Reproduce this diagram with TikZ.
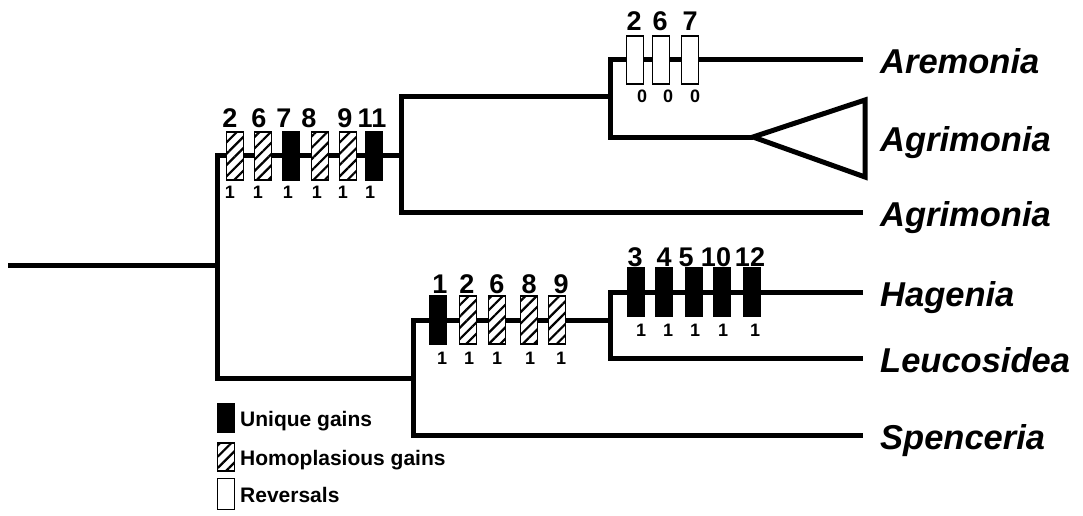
\documentclass[tikz,border=0pt]{standalone}
\usepackage{fontspec}
\setmainfont{Liberation Sans}
\usetikzlibrary{patterns.meta}
\begin{document}
\begin{tikzpicture}[x=1pt,y=-1pt,
  tree/.style={line width=5pt,line join=miter},
  chbox/.style={rectangle,draw,line width=1.3pt,minimum width=17pt,minimum height=48pt,inner sep=0pt},
  uniq/.style={chbox,fill=black},
  homo/.style={chbox,fill=white,postaction={pattern={Lines[angle=45,distance=8pt,line width=2.2pt]}}},
  rev/.style={chbox,fill=white},
  toplab/.style={font=\bfseries\fontsize{27}{27}\selectfont,inner sep=0pt},
  botlab/.style={font=\bfseries\fontsize{18}{18}\selectfont,inner sep=0pt},
  taxon/.style={font=\bfseries\itshape\fontsize{34.5}{34.5}\selectfont,anchor=base west,inner sep=0pt},
  legtxt/.style={font=\bfseries\fontsize{21}{21}\selectfont,anchor=base west,inner sep=0pt}]
\useasboundingbox (0,0) rectangle (1083,516);
% tree coordinates
\coordinate (root) at (8,265);
\coordinate (n1) at (217,265);
\coordinate (n1t) at (217,155);
\coordinate (n1b) at (217,378);
\coordinate (n2) at (401,155);
\coordinate (n2t) at (401,97);
\coordinate (n2b) at (401,212);
\coordinate (n3) at (610,97);
\coordinate (n3t) at (610,60);
\coordinate (n3b) at (610,137);
\coordinate (tip) at (753,137);
\coordinate (trt) at (865,100);
\coordinate (trb) at (865,177);
\coordinate (n4) at (413,378);
\coordinate (n4t) at (413,320);
\coordinate (n4b) at (413,435);
\coordinate (n5) at (610,320);
\coordinate (n5t) at (610,292);
\coordinate (n5b) at (610,358);
\coordinate (eAre) at (863,60);
\coordinate (eAgr) at (863,212);
\coordinate (eHag) at (863,292);
\coordinate (eLeu) at (863,358);
\coordinate (eSpe) at (863,435);
% branches
\draw[tree] (root) -- (n1);
\draw[tree] (n2) -- (n1t) -- (n1b) -- (n4);
\draw[tree] (n3) -- (n2t) -- (n2b) -- (eAgr);
\draw[tree] (eAre) -- (n3t) -- (n3b) -- (tip);
\draw[tree] (tip) -- (trt) -- (trb) -- cycle;
\draw[tree] (n5) -- (n4t) -- (n4b) -- (eSpe);
\draw[tree] (eHag) -- (n5t) -- (n5b) -- (eLeu);
% upper group
\node[homo] (u1) at (235,156) {};
\node[homo] (u2) at (263,156) {};
\node[uniq] (u3) at (291,156) {};
\node[homo] (u4) at (320,156) {};
\node[homo] (u5) at (348,156) {};
\node[uniq] (u6) at (374,156) {};
\node[toplab] (ut1) at (230,118) {2};
\node[toplab] (ut2) at (259,118) {6};
\node[toplab] (ut3) at (284,118) {7};
\node[toplab] (ut4) at (309,118) {8};
\node[toplab] (ut5) at (345,118) {9};
\node[toplab] (ut6) at (372,118) {11};
\node[botlab] (ub1) at (230,192) {1};
\node[botlab] (ub2) at (258,192) {1};
\node[botlab] (ub3) at (288,192) {1};
\node[botlab] (ub4) at (317,192) {1};
\node[botlab] (ub5) at (343,192) {1};
\node[botlab] (ub6) at (370,192) {1};
% reversals
\node[rev] (r1) at (635,60) {};
\node[rev] (r2) at (661,60) {};
\node[rev] (r3) at (690,60) {};
\node[toplab] (rt1) at (634,21) {2};
\node[toplab] (rt2) at (660,21) {6};
\node[toplab] (rt3) at (690,21) {7};
\node[botlab] (rb1) at (642,96) {0};
\node[botlab] (rb2) at (668,96) {0};
\node[botlab] (rb3) at (695,96) {0};
% lower group
\node[uniq] (l1) at (438,320) {};
\node[homo] (l2) at (468,320) {};
\node[homo] (l3) at (497,320) {};
\node[homo] (l4) at (529,320) {};
\node[homo] (l5) at (557,320) {};
\node[toplab] (lt1) at (440,284) {1};
\node[toplab] (lt2) at (467,284) {2};
\node[toplab] (lt3) at (497,284) {6};
\node[toplab] (lt4) at (529,284) {8};
\node[toplab] (lt5) at (561,284) {9};
\node[botlab] (lb1) at (442,358) {1};
\node[botlab] (lb2) at (469,358) {1};
\node[botlab] (lb3) at (497,358) {1};
\node[botlab] (lb4) at (530,358) {1};
\node[botlab] (lb5) at (561,358) {1};
% Hagenia group
\node[uniq] (h1) at (636,292) {};
\node[uniq] (h2) at (664,292) {};
\node[uniq] (h3) at (694,292) {};
\node[uniq] (h4) at (722,292) {};
\node[uniq] (h5) at (752,292) {};
\node[toplab] (ht1) at (635,257) {3};
\node[toplab] (ht2) at (664,257) {4};
\node[toplab] (ht3) at (686,257) {5};
\node[toplab] (ht4) at (716,257) {10};
\node[toplab] (ht5) at (750,257) {12};
\node[botlab] (hb1) at (641,330) {1};
\node[botlab] (hb2) at (668,330) {1};
\node[botlab] (hb3) at (695,330) {1};
\node[botlab] (hb4) at (723,330) {1};
\node[botlab] (hb5) at (755,330) {1};
% taxa
\node[taxon] (tAre) at (880,74) {Aremonia};
\node[taxon] (tAgr1) at (880,151) {Agrimonia};
\node[taxon] (tAgr2) at (880,226) {Agrimonia};
\node[taxon] (tHag) at (880,306) {Hagenia};
\node[taxon] (tLeu) at (880,372) {Leucosidea};
\node[taxon] (tSpe) at (880,449) {Spenceria};
% legend
\node[uniq,minimum width=17pt,minimum height=29pt] (k1) at (226,418) {};
\node[homo,minimum width=17pt,minimum height=28pt] (k2) at (226,457) {};
\node[rev,minimum width=17pt,minimum height=31pt] (k3) at (226,494) {};
\node[legtxt] (kt1) at (240,426) {Unique gains};
\node[legtxt] (kt2) at (240,465) {Homoplasious gains};
\node[legtxt] (kt3) at (240,502) {Reversals};
\end{tikzpicture}
\end{document}
